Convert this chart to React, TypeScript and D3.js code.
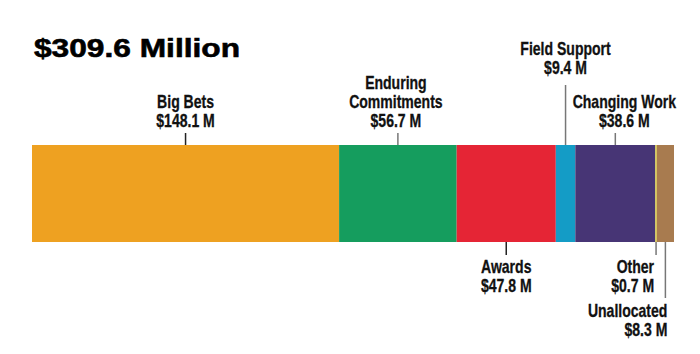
import React, { useEffect, useRef } from "react";
import * as d3 from "d3";

const categories = ["Big Bets", "Enduring Commitments", "Awards", "Field Support", "Changing Work", "Other", "Unallocated"];
const values = [148.1, 56.7, 47.8, 9.4, 38.6, 0.7, 8.3];
const colors = ["#eea121", "#159d5e", "#e52535", "#149cc6", "#473575", "#d9cc3a", "#a87b4f"];
const title = "$309.6 Million";

// label placement per segment: side, line end (y), anchor, x offset, first baseline
const layout: Record<string, any> = {
  "Big Bets": { side: "top", lines: ["Big Bets"], tickEnd: 133, anchor: "middle", dx: 0, base: 108 },
  "Enduring Commitments": { side: "top", lines: ["Enduring", "Commitments"], tickEnd: 133, anchor: "middle", dx: -2, base: 89 },
  "Awards": { side: "bottom", lines: ["Awards"], tickEnd: 255, anchor: "middle", dx: 0, base: 273 },
  "Field Support": { side: "top", lines: ["Field Support"], tickEnd: 85, anchor: "middle", dx: 0, base: 55 },
  "Changing Work": { side: "top", lines: ["Changing Work"], tickEnd: 133, anchor: "middle", dx: 9, base: 108 },
  "Other": { side: "bottom", lines: ["Other"], tickEnd: 255, anchor: "end", dx: -2, base: 273 },
  "Unallocated": { side: "bottom", lines: ["Unallocated"], tickEnd: 298, anchor: "end", dx: 2, base: 317 },
};

export default function App() {
  const ref = useRef<SVGSVGElement>(null);

  useEffect(() => {
    document.body.style.margin = "0";
    const width = 700;
    const height = 354;
    const barTop = 145;
    const barBottom = 242;
    const lineH = 19;
    const squeeze = 0.78; // narrow bold look

    const svg = d3.select(ref.current);
    svg.selectAll("*").remove();
    svg.attr("width", width).attr("height", height);

    const data = categories.map((c, i) => ({
      name: c,
      value: values[i],
      color: colors[i],
      start: d3.sum(values.slice(0, i)),
    }));
    const total = d3.sum(values);

    const x = d3.scaleLinear().domain([0, total]).range([32, 674]);

    svg.append("text")
      .attr("x", 34)
      .attr("y", 57)
      .attr("font-family", "Liberation Sans, Arial, sans-serif")
      .attr("font-weight", "bold")
      .attr("font-size", 26)
      .attr("stroke", "#000")
      .attr("stroke-width", 0.6)
      .attr("textLength", 206)
      .attr("lengthAdjust", "spacingAndGlyphs")
      .attr("fill", "#000")
      .text(title);

    svg.selectAll(".seg")
      .data(data)
      .enter()
      .append("rect")
      .attr("class", "seg")
      .attr("x", d => x(d.start))
      .attr("y", barTop)
      .attr("width", d => x(d.start + d.value) - x(d.start))
      .attr("height", barBottom - barTop)
      .attr("fill", d => d.color);

    const g = svg.selectAll(".lab").data(data).enter().append("g").attr("class", "lab");

    g.append("line")
      .attr("x1", d => x(d.start + d.value / 2))
      .attr("x2", d => x(d.start + d.value / 2))
      .attr("y1", d => (layout[d.name].side === "top" ? barTop : barBottom))
      .attr("y2", d => layout[d.name].tickEnd)
      .attr("stroke", d => (d.name === "Big Bets" || d.name === "Awards" ? "#222" : "#777"))
      .attr("stroke-width", 1.5);

    g.append("g")
      .attr("transform", d => `translate(${x(d.start + d.value / 2) + layout[d.name].dx},${layout[d.name].base}) scale(${squeeze},1)`)
      .append("text")
      .attr("font-family", "'Liberation Sans', Arial, sans-serif")
      .attr("font-weight", "bold")
      .attr("font-size", 18)
      .attr("stroke", "#111")
      .attr("stroke-width", 0.3)
      .attr("fill", "#111")
      .attr("text-anchor", d => layout[d.name].anchor)
      .each(function (d) {
        const L = layout[d.name];
        const sel = d3.select(this);
        const all = [...L.lines, `$${d.value.toFixed(1)} M`];
        all.forEach((s: string, i: number) => {
          sel.append("tspan").attr("x", 0).attr("y", i * lineH).text(s);
        });
      });
  }, []);

  return <svg ref={ref} style={{ display: "block" }}></svg>;
}
